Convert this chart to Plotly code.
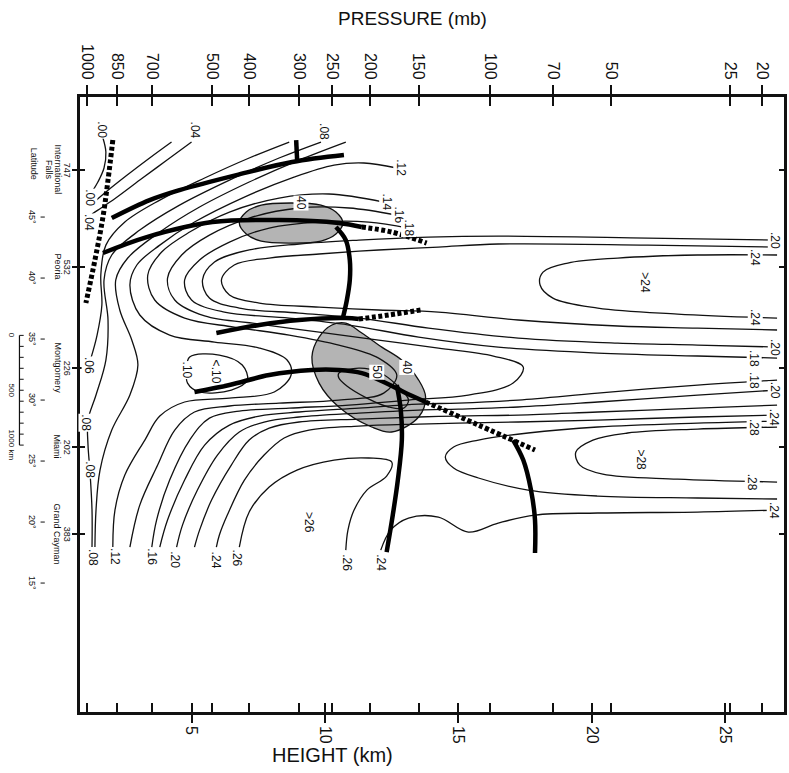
import plotly.graph_objects as go

# ---------------- axis data ----------------
pressure_labels = ["1000", "850", "700", "500", "400", "300", "250", "200", "150", "100", "70", "50", "25", "20"]
pressure_heights = [1.08, 2.20, 3.51, 5.78, 7.16, 9.03, 10.26, 11.68, 13.51, 16.19, 18.54, 20.71, 25.19, 26.38]
height_ticks = [5, 10, 15, 20, 25]

station_ids = ["747", "532", "226", "202", "383"]
station_names = [["International", "Falls"], ["Peoria"], ["Montgomery"], ["Miami"], ["Grand Cayman"]]
station_lats = [48.85, 40.90, 32.62, 26.15, 19.02]
latitude_marks = [45, 40, 35, 30, 25, 20, 15]
scale_km = [0, 500, 1000]
scale_top_lat = 35.3

# ---------------- contour lines (height km, latitude) ----------------
iso_00 = [(1.68, 51.48), (1.79, 50.33), (1.72, 49.02), (1.49, 47.87), (1.31, 47.21)]
iso_02 = [(4.25, 51.15), (3.43, 49.84), (2.54, 48.36), (1.79, 47.05), (1.31, 46.15)]
iso_04 = [(5.0, 51.15), (4.03, 49.59), (3.06, 48.03), (2.16, 46.56), (1.49, 45.57), (1.27, 45.25)]
iso_06 = [(8.66, 51.15), (7.16, 49.84), (5.49, 48.20), (3.81, 46.39), (2.50, 44.59), (1.79, 42.70),
          (1.60, 40.25), (1.64, 37.79), (1.46, 35.33), (1.23, 33.44)]
iso_08 = [(9.85, 51.15), (8.28, 49.84), (6.42, 48.03), (4.55, 45.98), (3.06, 43.93), (2.01, 41.89),
          (1.72, 39.84), (1.87, 36.56), (1.79, 33.28), (1.42, 30.41), (1.12, 28.36), (1.12, 26.31),
          (1.19, 24.26), (1.27, 20.98), (1.27, 17.95)]
iso_10 = [(10.78, 51.15), (9.03, 49.67), (7.16, 47.87), (5.30, 45.82), (3.81, 43.77), (2.61, 41.64),
          (2.16, 39.84), (2.31, 37.38), (2.76, 34.92), (2.99, 32.87), (2.69, 30.41), (2.01, 27.54),
          (1.57, 24.26), (1.42, 20.98), (1.38, 17.95)]
iso_12 = [(12.69, 49.02), (11.46, 49.43), (10.34, 49.26), (8.84, 48.28), (6.98, 46.64), (5.11, 44.59),
          (3.81, 42.70), (2.95, 41.07), (2.69, 39.43), (3.06, 36.97), (4.18, 35.33), (5.86, 34.75),
          (7.54, 34.26), (8.58, 33.28), (8.73, 32.05), (8.10, 30.66), (6.42, 30.16), (4.74, 29.84),
          (3.81, 28.69), (3.25, 26.72), (2.50, 23.85), (2.13, 20.98), (2.05, 17.95)]
iso_14 = [(12.20, 46.23), (10.15, 46.89), (8.28, 46.56), (6.42, 45.41), (4.93, 43.77), (3.88, 42.13),
          (3.36, 40.25), (3.62, 38.20), (4.74, 36.72), (6.60, 35.98), (8.66, 35.33), (10.52, 34.51),
          (12.01, 33.44), (12.69, 32.05), (12.20, 30.57), (10.52, 30.00), (8.28, 29.75), (6.42, 29.51),
          (5.11, 29.02), (4.37, 27.54), (3.73, 24.67), (3.06, 21.39), (2.69, 17.95)]
iso_16 = [(12.69, 45.16), (10.90, 45.74), (9.03, 45.74), (7.16, 44.92), (5.67, 43.52), (4.63, 41.89),
          (4.10, 40.00), (4.37, 38.20), (5.49, 36.89), (7.54, 36.23), (9.78, 35.57), (12.01, 34.92),
          (14.25, 34.26), (16.31, 33.61), (17.43, 32.70), (17.05, 31.39), (15.37, 30.41), (13.13, 30.00),
          (10.90, 29.59), (8.66, 29.34), (6.79, 29.10), (5.67, 28.52), (4.93, 26.72), (4.18, 23.44),
          (3.69, 20.16), (3.51, 17.95)]
iso_18_n = [(13.13, 44.10), (11.64, 44.59), (9.78, 44.59), (7.91, 44.10), (6.42, 42.95), (5.30, 41.48),
            (4.74, 39.84), (5.00, 38.20), (6.23, 37.21), (8.66, 36.72), (10.90, 36.15), (13.51, 35.16),
            (16.49, 34.34), (20.22, 33.85), (23.96, 33.61), (26.94, 33.44)]
iso_20_n = [(26.94, 43.11), (22.09, 43.28), (16.49, 43.44), (13.88, 43.36), (11.27, 43.11), (9.03, 42.79),
            (7.16, 42.30), (5.86, 41.31), (5.41, 39.84), (5.67, 38.36), (6.79, 37.54), (9.03, 37.13),
            (11.27, 36.72), (13.88, 35.90), (17.24, 35.08), (20.97, 34.67), (23.96, 34.51), (26.94, 34.34)]
iso_22_n = [(26.94, 42.54), (22.09, 42.70), (16.49, 42.79), (14.25, 42.54), (12.01, 42.30), (9.78, 41.97),
            (7.91, 41.64), (6.60, 41.07), (6.12, 39.84), (6.42, 38.61), (7.54, 37.95), (9.78, 37.62),
            (12.01, 37.38), (14.25, 37.21), (17.24, 36.56), (20.97, 36.07), (23.96, 35.90), (26.94, 35.74)]
iso_24_n = [(26.94, 41.89), (23.96, 41.89), (20.97, 41.64), (19.10, 41.23), (18.17, 40.49), (18.06, 39.43),
            (18.54, 38.36), (20.22, 37.54), (23.21, 37.05), (26.94, 36.72)]
iso_10_loop = [(4.81, 32.46), (4.93, 33.52), (6.04, 33.69), (6.90, 32.87), (7.09, 31.64), (6.49, 30.82),
               (5.30, 30.66), (4.85, 31.39), (4.81, 32.46)]
iso_18_s = [(26.94, 31.64), (23.96, 31.23), (20.22, 30.57), (17.24, 30.00), (15.00, 29.75), (13.51, 29.67),
            (11.27, 29.34), (9.03, 29.02), (7.54, 28.69), (6.42, 27.95), (5.49, 26.31), (4.74, 23.44),
            (4.10, 20.16), (3.81, 17.95)]
iso_20_s = [(26.94, 30.82), (23.96, 30.41), (20.22, 29.84), (17.24, 29.43), (15.00, 29.26), (13.51, 29.18),
            (11.27, 28.93), (9.03, 28.61), (7.72, 28.20), (6.79, 27.38), (5.97, 25.49), (5.22, 22.62),
            (4.66, 19.75), (4.44, 17.95)]
iso_22_s = [(26.94, 29.59), (23.96, 29.34), (20.22, 29.02), (17.24, 28.77), (15.00, 28.69), (13.51, 28.61),
            (11.27, 28.44), (9.03, 28.20), (7.91, 27.70), (7.16, 26.72), (6.49, 24.67), (5.75, 21.80),
            (5.30, 19.34), (5.11, 17.95)]
iso_24_s = [(26.94, 28.77), (23.96, 28.61), (20.22, 28.36), (17.24, 28.20), (15.00, 28.11), (13.51, 28.03),
            (11.27, 27.87), (9.40, 27.54), (8.47, 26.89), (7.72, 25.49), (6.98, 23.44), (6.34, 20.57),
            (6.04, 18.92), (5.93, 17.95)]
iso_26_u = [(26.94, 28.28), (23.96, 28.11), (20.22, 27.79), (17.61, 27.30), (15.75, 26.72), (14.82, 26.15),
            (14.51, 25.33), (14.82, 24.43), (15.75, 23.61), (17.61, 22.62), (20.22, 22.13), (23.96, 21.97),
            (26.94, 21.89)]
iso_28_u = [(26.94, 27.79), (23.96, 27.62), (21.34, 27.30), (20.04, 26.72), (19.40, 25.74), (19.55, 24.67),
            (20.41, 23.93), (23.21, 23.52), (26.94, 23.28)]
iso_26_arch = [(6.79, 17.95), (7.16, 20.82), (7.91, 22.87), (8.95, 24.26), (10.34, 25.08), (11.64, 25.25),
               (12.50, 24.92), (12.31, 23.77), (11.57, 22.62), (11.09, 20.98), (10.86, 19.34), (10.78, 17.70)]
iso_24_b = [(12.09, 17.70), (12.46, 19.34), (13.13, 20.33), (14.25, 20.41), (15.37, 19.18), (16.49, 19.92),
            (17.87, 20.57), (20.22, 20.74), (23.96, 20.82), (26.94, 20.98)]

contours = [iso_00, iso_02, iso_04, iso_06, iso_08, iso_10, iso_12, iso_14, iso_16, iso_18_n, iso_20_n,
            iso_22_n, iso_24_n, iso_10_loop, iso_18_s, iso_20_s, iso_22_s, iso_24_s, iso_26_u, iso_28_u,
            iso_26_arch, iso_24_b]

# ---------------- fronts / tropopauses (thick) ----------------
thick_upper = [(2.01, 44.92), (3.43, 46.39), (4.55, 47.21), (6.68, 48.44), (8.77, 49.51), (10.71, 50.08)]
thick_upper_tick = [(8.92, 51.31), (8.96, 49.51)]
thick_north = [(1.68, 42.05), (3.32, 43.36), (5.78, 44.59), (8.28, 44.75), (10.52, 44.51), (11.38, 44.18)]
thick_link = [(10.41, 44.18), (10.78, 43.11), (10.93, 41.48), (10.93, 39.84), (10.82, 38.20), (10.67, 36.72)]
thick_mid = [(5.93, 35.49), (7.54, 36.15), (9.03, 36.56), (10.78, 36.72), (11.27, 36.64)]
thick_south = [(5.11, 30.66), (6.42, 31.23), (7.91, 32.05), (9.51, 32.46), (10.52, 32.46), (11.38, 32.21),
               (12.20, 31.48), (12.95, 30.66), (13.77, 29.84)]
thick_drop_a = [(12.69, 31.23), (12.84, 29.18), (12.88, 26.72), (12.73, 23.44), (12.54, 20.57), (12.31, 17.54)]
thick_drop_b = [(17.05, 26.72), (17.43, 25.08), (17.72, 22.62), (17.87, 20.16), (17.87, 17.46)]
thick_lines = [thick_upper, thick_upper_tick, thick_north, thick_link, thick_mid, thick_south,
               thick_drop_a, thick_drop_b]

dash_surface = [(2.05, 51.31), (1.87, 48.03), (1.68, 45.0), (1.38, 41.48), (1.04, 37.95)]
dash_north = [(11.38, 44.18), (12.50, 43.77), (13.81, 42.87)]
dash_mid = [(11.27, 36.64), (12.39, 36.97), (13.58, 37.38)]
dash_south = [(13.77, 29.84), (15.75, 27.95), (17.87, 25.90)]
dashed_lines = [dash_surface, dash_north, dash_mid, dash_south]

# ---------------- jet cores (shaded) ----------------
jet_north = [(6.79, 44.51), (7.05, 45.41), (7.61, 45.98), (8.73, 46.15), (9.85, 45.98), (10.41, 45.41),
             (10.67, 44.51), (10.41, 43.61), (9.85, 43.03), (8.73, 42.87), (7.61, 43.03), (7.05, 43.61),
             (6.79, 44.51)]
jet_south = [(10.26, 36.15), (10.78, 36.31), (11.38, 35.49), (12.13, 34.34), (12.87, 33.28), (13.51, 31.64),
             (13.77, 30.25), (13.51, 28.61), (12.50, 27.38), (11.75, 27.79), (10.52, 29.43), (9.78, 31.39),
             (9.51, 33.52), (9.78, 35.16), (10.26, 36.15)]
isotach_50 = [(10.52, 32.21), (11.27, 32.62), (12.01, 32.30), (12.69, 31.23), (13.13, 30.00), (12.95, 29.34),
              (12.39, 29.43), (11.57, 30.16), (10.82, 31.15), (10.52, 31.80), (10.52, 32.21)]

# ---------------- labels ----------------
label_text = [".00", ".00", ".04", ".04", ".08", ".12", ".14", ".16", ".18", "40", ".20", ".24", ">24",
              ".24", ".20", ".18", ".18", ".20", ".24", ".28", ">28", ".28", ".24", ".06", ".08", ".08",
              ".10", "<.10", "40", "50", ".08", ".12", ".16", ".20", ".24", ".26", ">26", ".26", ".24"]
label_h = [1.64, 1.19, 5.11, 1.16, 9.96, 12.84, 12.31, 12.76, 13.13, 9.10, 26.87, 26.12, 21.98,
           26.12, 26.87, 26.08, 26.08, 26.87, 26.83, 26.08, 21.83, 26.01, 26.83, 1.16, 1.04, 1.19,
           4.81, 5.93, 13.06, 11.94, 1.31, 2.13, 3.51, 4.37, 5.93, 6.72, 9.40, 10.82, 12.09]
label_lat = [52.13, 46.56, 52.13, 44.59, 51.97, 49.02, 46.23, 45.16, 44.10, 46.15, 43.11, 41.72, 39.59,
             36.80, 34.34, 33.44, 31.64, 30.82, 28.61, 27.79, 25.08, 23.28, 20.98, 32.87, 28.11, 24.26,
             32.46, 32.30, 32.70, 32.30, 17.13, 17.13, 17.13, 16.89, 16.89, 17.05, 19.92, 16.64, 16.64]

FONT = "Liberation Sans, Arial, sans-serif"
INK = "#111111"

fig = go.Figure()

for shape in (jet_north, jet_south):
    fig.add_trace(go.Scatter(x=[p[0] for p in shape], y=[p[1] for p in shape], mode="lines",
                             fill="toself", fillcolor="#b4b4b4", line=dict(color=INK, width=1.3, shape="spline"),
                             hoverinfo="skip", showlegend=False))

for c in contours + [isotach_50]:
    fig.add_trace(go.Scatter(x=[p[0] for p in c], y=[p[1] for p in c], mode="lines",
                             line=dict(color=INK, width=1.3, shape="spline", smoothing=1.0),
                             hoverinfo="skip", showlegend=False))

for c in thick_lines:
    fig.add_trace(go.Scatter(x=[p[0] for p in c], y=[p[1] for p in c], mode="lines",
                             line=dict(color="black", width=4.5, shape="spline"),
                             hoverinfo="skip", showlegend=False))

for c in dashed_lines:
    fig.add_trace(go.Scatter(x=[p[0] for p in c], y=[p[1] for p in c], mode="lines",
                             line=dict(color="black", width=5, dash="4px,2.5px", shape="spline"),
                             hoverinfo="skip", showlegend=False))

# dummy traces so the overlay axes are drawn
for xa, ya in (("x2", "y"), ("x3", "y"), ("x4", "y"), ("x", "y2")):
    fig.add_trace(go.Scatter(x=[10], y=[30], xaxis=xa, yaxis=ya, mode="markers",
                             marker=dict(opacity=0), hoverinfo="skip", showlegend=False))


def note(x, y, text, size, xref="x", yref="y", angle=90, bg=None):
    d = dict(x=x, y=y, xref=xref, yref=yref, text=text, showarrow=False, textangle=angle,
             xanchor="center", yanchor="middle", font=dict(family=FONT, size=size, color=INK))
    if bg:
        d.update(bgcolor=bg, borderpad=0)
    return d


annotations = []
for t, hx, la in zip(label_text, label_h, label_lat):
    annotations.append(note(hx, la, t, 12, bg="white"))

# station labels
for sid, names, lat in zip(station_ids, station_names, station_lats):
    annotations.append(note(-0.018, lat, sid, 9, xref="paper"))
    for k, nm in enumerate(names):
        annotations.append(note(-0.032 - 0.012 * k, lat, nm, 9, xref="paper"))
annotations.append(note(-0.066, 49.4, "Latitude", 9, xref="paper"))
for lm in latitude_marks:
    annotations.append(note(-0.068, lm, f"{lm}°", 9, xref="paper"))
for km in scale_km:
    annotations.append(note(-0.097, scale_top_lat - km / 111.2, (f"{km} km" if km == 1000 else str(km)), 8,
                            xref="paper"))

annotations.append(note(0.472, 1.128, "PRESSURE (mb)", 19, xref="paper", yref="paper", angle=0))
annotations.append(note(0.359, -0.0705, "HEIGHT (km)", 20, xref="paper", yref="paper", angle=0))

shapes = []
for lm in latitude_marks:
    shapes.append(dict(type="line", xref="paper", yref="y", x0=-0.056, x1=-0.050, y0=lm, y1=lm,
                       line=dict(color=INK, width=1)))
shapes.append(dict(type="line", xref="paper", yref="y", x0=-0.086, x1=-0.086,
                   y0=scale_top_lat - scale_km[0] / 111.2, y1=scale_top_lat - scale_km[-1] / 111.2,
                   line=dict(color=INK, width=1.2)))
for km in range(0, 1001, 100):
    shapes.append(dict(type="line", xref="paper", yref="y", x0=-0.086, x1=-0.080,
                       y0=scale_top_lat - km / 111.2, y1=scale_top_lat - km / 111.2,
                       line=dict(color=INK, width=1)))

XR = [0.82, 27.2]
YR = [4.43, 54.84]
tickfont = dict(family=FONT, size=16, color=INK)

fig.update_layout(
    width=789, height=773,
    margin=dict(l=80, r=2, t=97, b=61),
    paper_bgcolor="white", plot_bgcolor="white",
    showlegend=False,
    annotations=annotations,
    shapes=shapes,
    xaxis=dict(range=XR, tickvals=height_ticks, ticktext=[str(v) for v in height_ticks], tickangle=90,
               ticks="outside", ticklen=8, tickwidth=1.6, tickcolor=INK, showline=True, linewidth=2.5,
               linecolor=INK, showgrid=False, zeroline=False, tickfont=tickfont, fixedrange=True),
    xaxis2=dict(range=XR, overlaying="x", side="top", anchor="y", tickvals=pressure_heights,
                ticktext=pressure_labels, tickangle=90, ticks="outside", ticklen=9, tickwidth=1.6,
                tickcolor=INK, showline=True, linewidth=2.5, linecolor=INK, showgrid=False,
                zeroline=False, tickfont=tickfont),
    xaxis3=dict(range=XR, overlaying="x", side="bottom", anchor="y", tickvals=pressure_heights + height_ticks,
                ticks="inside", ticklen=9, tickwidth=1.6, tickcolor=INK, showticklabels=False,
                showline=False, showgrid=False, zeroline=False),
    xaxis4=dict(range=XR, overlaying="x", side="top", anchor="y", tickvals=pressure_heights,
                ticks="inside", ticklen=9, tickwidth=1.6, tickcolor=INK, showticklabels=False,
                showline=False, showgrid=False, zeroline=False),
    yaxis=dict(range=YR, tickvals=station_lats, ticks="outside", ticklen=5, tickwidth=1.6, tickcolor=INK,
               showticklabels=False, showline=True, linewidth=2.5, linecolor=INK, mirror=True,
               showgrid=False, zeroline=False),
    yaxis2=dict(range=YR, overlaying="y", side="left", anchor="x", tickvals=station_lats, ticks="inside",
                ticklen=5, tickwidth=1.6, tickcolor=INK, showticklabels=False, showline=False,
                mirror="ticks", showgrid=False, zeroline=False),
)

fig.write_html("out.html")
